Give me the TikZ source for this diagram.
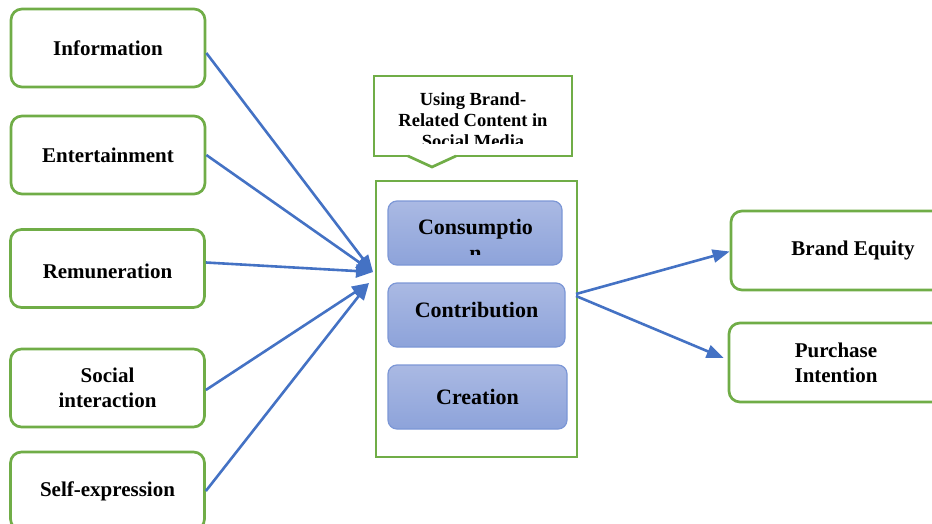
\documentclass[tikz,border=0pt]{standalone}
\usepackage{fontspec}
\setmainfont{Liberation Serif}
\usetikzlibrary{arrows.meta}

\definecolor{vert}{HTML}{70AD47}
\definecolor{bleu}{HTML}{4472C4}
\definecolor{bleuhaut}{HTML}{AAB9E3}
\definecolor{bleubas}{HTML}{8DA3DA}
\definecolor{bleubord}{HTML}{7C97D6}

\tikzset{
  motif/.style={draw=vert, line width=2.7pt, rounded corners=11pt, fill=white,
    minimum width=194pt, minimum height=78pt, align=center,
    font=\fontsize{21}{25}\selectfont\bfseries},
  usage/.style={draw=bleubord, line width=1.2pt, rounded corners=9pt,
    top color=bleuhaut, bottom color=bleubas, minimum width=176pt, minimum height=64pt,
    align=center, font=\fontsize{22}{26}\selectfont\bfseries},
  texteusage/.style={align=center, font=\fontsize{22}{26}\selectfont\bfseries},
  titre/.style={align=center, font=\fontsize{18.5}{21}\selectfont\bfseries},
  fleche/.style={bleu, line width=2.6pt, -{Triangle[length=17pt,width=13pt]}}
}

\begin{document}
\begin{tikzpicture}[x=1pt,y=-1pt]

% Cadre de la page
\path[use as bounding box, clip] (0,0) rectangle (932,524);

% Motivations
\node[motif] (info) at (108,48) {Information};
\node[motif] (divert) at (108,155) {Entertainment};
\node[motif, text height=20pt] (remun) at (107.5,268.5) {Remuneration};
\node[motif] (social) at (107.5,388) {Social\\interaction};
\node[motif] (soi) at (107.5,491) {Self-expression};

% Bulle
\node[draw=vert, line width=2.7pt, minimum width=198pt, minimum height=80pt] (bulle) at (473,116) {};
\fill[white] (406,154.2) -- (432,166.5) -- (458,154.2) -- cycle;
\draw[vert, line width=2.7pt] (408,156) -- (432,167) -- (456,156);
\begin{scope}
\clip (374,76) rectangle (572,144);
\node[titre] (titre) at (473,120) {Using Brand-\\Related Content in\\Social Media};
\end{scope}

% Grand cadre
\node[draw=vert, line width=2.7pt, minimum width=201pt, minimum height=276pt] (cadre) at (476.5,319) {};

% Usages
\node[usage, minimum width=174pt] (conso) at (475,233) {};
\begin{scope}
\clip (conso.north west) rectangle ([yshift=11pt]conso.south east);
\node[texteusage] (consotexte) at (475.5,240) {Consumptio\\n};
\end{scope}
\node[usage, minimum width=177pt, text depth=11pt] (contrib) at (476.5,315) {Contribution};
\node[usage, minimum width=179pt] (creation) at (477.5,397) {Creation};

% Effets
\node[motif, minimum width=244pt, minimum height=79pt] (equity) at (853,250.5) {Brand Equity};
\node[motif, minimum width=214pt, minimum height=79pt] (achat) at (836,362.5) {Purchase\\Intention};

% Fleches
\coordinate (haut) at (373,272);
\coordinate (bas) at (369,283);
\coordinate (depart) at (576,294);
\draw[fleche] ([yshift=-5pt]info.east) -- (haut);
\draw[fleche] (divert.east) -- (haut);
\draw[fleche] ([yshift=6pt]remun.east) -- (haut);
\draw[fleche] ([yshift=-2pt]social.east) -- (bas);
\draw[fleche] (soi.east) -- (bas);
\draw[fleche] (depart) -- ([yshift=-1pt]equity.west);
\draw[fleche] ([yshift=-2pt]depart) -- ([xshift=-4pt,yshift=4.5pt]achat.west);

\end{tikzpicture}
\end{document}
